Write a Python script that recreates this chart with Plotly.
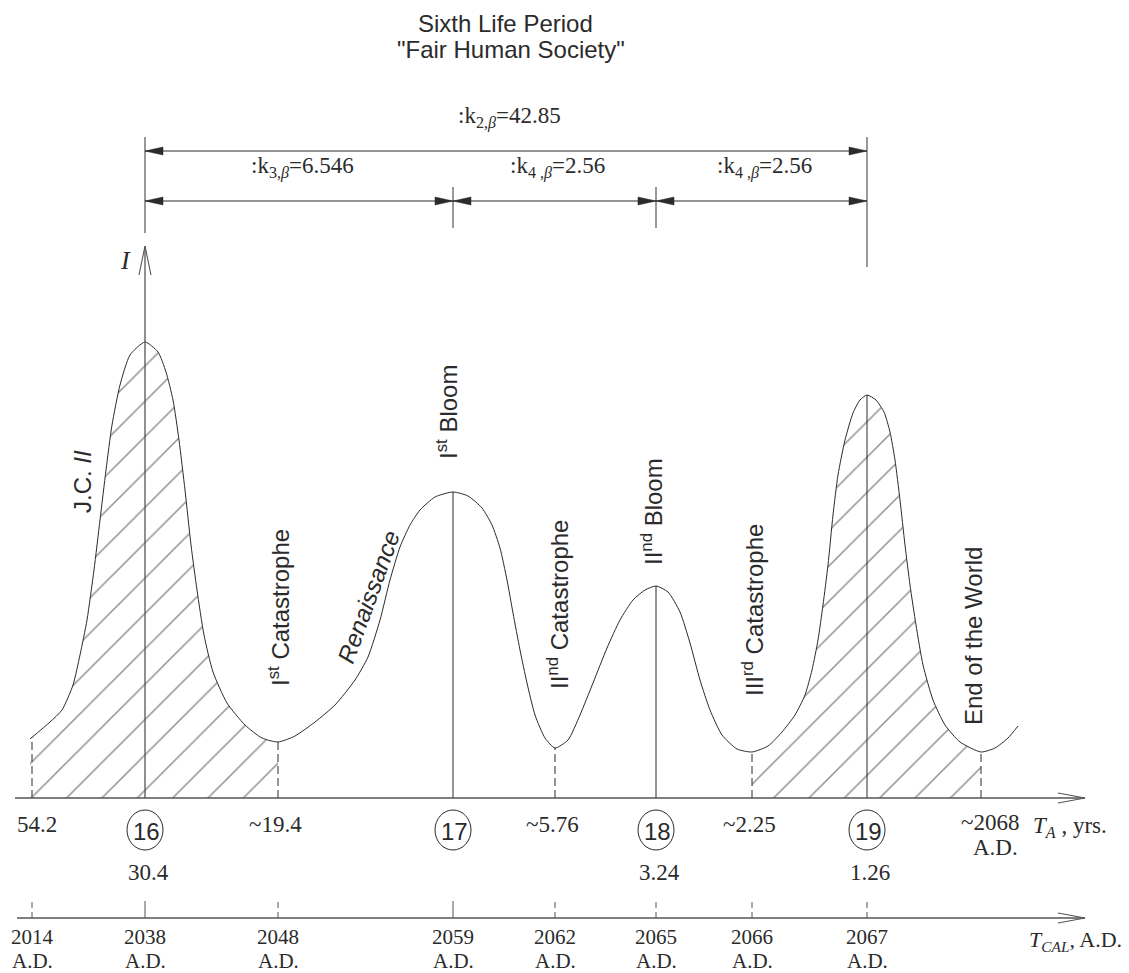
import numpy as np
import plotly.graph_objects as go

# ---------------- data (schematic drawing: position along the time axis, intensity I) ----------------
curve_x = [30, 50, 62, 73, 80, 87, 94, 100, 106, 112, 120, 130, 145, 158, 166, 173, 179, 185, 191, 197,
           204, 213, 227, 245, 262, 278, 295, 315, 335, 355, 368, 380, 390, 400, 410, 420, 435, 453, 468, 482,
           492, 500, 507, 513, 520, 527, 535, 545, 555, 568, 580, 593, 607, 620, 633, 645, 656, 668, 680, 690,
           700, 710, 722, 737, 752, 768, 782, 795, 805, 812, 818, 823, 828, 833, 838, 845, 853, 860, 867, 876,
           884, 890, 895, 900, 905, 910, 916, 923, 933, 945, 960, 981, 995, 1008, 1018]
curve_I = [59, 76, 88, 113, 143, 178, 228, 278, 328, 373, 413, 443, 456, 446, 426, 398, 358, 308, 253, 208,
           163, 126, 95, 73, 60, 56, 62, 76, 93, 118, 141, 178, 218, 251, 273, 288, 301, 306, 302, 290,
           273, 250, 218, 185, 148, 115, 83, 60, 50, 58, 83, 115, 150, 178, 198, 208, 212, 206, 186, 155,
           118, 88, 63, 49, 46, 52, 66, 83, 103, 128, 158, 193, 233, 283, 323, 358, 385, 398, 403, 398,
           386, 366, 338, 298, 253, 213, 173, 133, 98, 73, 56, 46, 50, 60, 72]

event_x = [32, 145, 278, 453, 555, 656, 752, 867, 981]
event_kind = ['min', 'peak', 'min', 'peak', 'min', 'peak', 'min', 'peak', 'min']
period_no = ['', '16', '', '17', '', '18', '', '19', '']
TA_values = ['54.2', '', '~19.4', '', '~5.76', '', '~2.25', '', '~2068<br>A.D.']
TA_under = ['', '30.4', '', '', '', '3.24', '', '1.26', '']
TCAL_years = ['2014', '2038', '2048', '2059', '2062', '2065', '2066', '2067', '']
TCAL_solid = [False, True, False, True, False, False, False, False, False]

event_names = ['J.C. <i>II</i>', 'I<sup>st</sup> Catastrophe', '<i>Renaissance</i>', 'I<sup>st</sup> Bloom',
               'II<sup>nd</sup> Catastrophe', 'II<sup>nd</sup> Bloom', 'III<sup>rd</sup> Catastrophe',
               'End of the World']

dim_labels = [':k<sub>2,<i>β</i></sub>=42.85', ':k<sub>3,<i>β</i></sub>=6.546',
              ':k<sub>4 ,<i>β</i></sub>=2.56', ':k<sub>4 ,<i>β</i></sub>=2.56']
dim_from = [1, 1, 3, 5]   # event index
dim_to = [7, 3, 5, 7]
dim_level = [0, 1, 1, 1]

hatch_spans = [(0, 2), (6, 8)]  # event index ranges

# ---------------- style ----------------
INK = '#2b2b2b'
AXC = '#555555'
SANS = 'Liberation Sans, Arial, sans-serif'
SERIF = 'Liberation Serif, Times New Roman, serif'
BASE = 798          # screen row of the T_A axis
W, H = 1129, 973
OFF = 8             # page body margin

def Y(py):  # style helper: screen row -> I units (1 unit = 1px)
    return BASE - py

fig = go.Figure()

def seg(xs, ys, color=INK, width=1.0, dash=None):
    fig.add_trace(go.Scatter(x=xs, y=ys, mode='lines', hoverinfo='skip', showlegend=False,
                             line=dict(color=color, width=width, dash=dash)))

def tri(xtip, ytip, direction, length=18, half=4):
    xb = xtip - direction * length
    fig.add_trace(go.Scatter(x=[xtip, xb, xb, xtip], y=[ytip, ytip + half, ytip - half, ytip],
                             mode='lines', fill='toself', fillcolor=INK, hoverinfo='skip',
                             showlegend=False, line=dict(color=INK, width=0.5)))

# hatched regions
for a, b in hatch_spans:
    lo, hi = event_x[a] - 2, event_x[b]
    xs = [x for x in curve_x if lo <= x <= hi]
    ys = [curve_I[curve_x.index(x)] for x in xs]
    fig.add_trace(go.Scatter(x=xs, y=ys, mode='lines', line=dict(width=0, shape='spline', smoothing=0.6),
                             fill='tozeroy', fillcolor='rgba(0,0,0,0)',
                             fillpattern=dict(shape='/', size=25, solidity=0.06, fgcolor='#222222',
                                              bgcolor='rgba(0,0,0,0)'),
                             hoverinfo='skip', showlegend=False))

# curve
fig.add_trace(go.Scatter(x=curve_x, y=curve_I, mode='lines', hoverinfo='skip', showlegend=False,
                         line=dict(color=INK, width=1, shape='spline', smoothing=0.6)))

event_I = np.interp(event_x, curve_x, curve_I)

# verticals from curve to T_A axis
for i, x in enumerate(event_x):
    if event_kind[i] == 'min':
        seg([x, x], [0, event_I[i]], color=INK, width=1, dash='8px,4px')
    elif i != 1:
        seg([x, x], [0, event_I[i]], color=INK, width=1)

# T_A axis
seg([15, 1085], [0, 0], color=AXC, width=1.3)
seg([1058, 1085, 1058], [5, 0, -5], color=AXC, width=1.1)
# T_CAL axis
ycal = Y(918)
seg([17, 1085], [ycal, ycal], color=AXC, width=1.3)
seg([1058, 1085, 1058], [ycal + 5, ycal, ycal - 5], color=AXC, width=1.1)
for i, x in enumerate(event_x):
    if TCAL_years[i]:
        seg([x, x], [ycal, ycal + 17], color=AXC, width=1, dash=None if TCAL_solid[i] else '6px,4px')
# I axis
x16 = event_x[1]
seg([x16, x16], [0, Y(246)], color=AXC, width=1.3)
seg([x16 - 6, x16, x16 + 6], [Y(275), Y(246), Y(275)], color=AXC, width=1.1)

# dimension lines
lev_y = [Y(151), Y(201)]
ext = {1: (Y(137), Y(233)), 3: (Y(187), Y(228)), 5: (Y(187), Y(228)), 7: (Y(137), Y(267))}
for k, (y0, y1) in ext.items():
    seg([event_x[k], event_x[k]], [y0, y1], color=AXC, width=1.2)
for j in range(len(dim_labels)):
    x0, x1 = event_x[dim_from[j]], event_x[dim_to[j]]
    yl = lev_y[dim_level[j]]
    seg([x0, x1], [yl, yl], color=INK, width=1.1)
    tri(x0, yl, -1)
    tri(x1, yl, +1)
    fig.add_annotation(x=(x0 + x1) / 2 + 3, y=yl + 34, text=dim_labels[j], showarrow=False,
                       font=dict(family=SERIF, size=23, color=INK), xanchor='center', yanchor='middle')

# circled period numbers & T_A values
for i, x in enumerate(event_x):
    if period_no[i]:
        fig.add_shape(type='circle', x0=x - 18, x1=x + 18, y0=Y(850), y1=Y(810),
                      line=dict(color=INK, width=1))
        fig.add_annotation(x=x + 1, y=Y(831), text=period_no[i], showarrow=False,
                           font=dict(family=SANS, size=24, color=INK), xanchor='center', yanchor='middle')
    if TA_under[i]:
        fig.add_annotation(x=x + 3, y=Y(872), text=TA_under[i], showarrow=False,
                           font=dict(family=SERIF, size=23, color=INK), xanchor='center', yanchor='middle')
    if TA_values[i] and '<br>' not in TA_values[i]:
        fig.add_annotation(x=x + (5 if i == 0 else -3), y=Y(824), text=TA_values[i], showarrow=False,
                           font=dict(family=SERIF, size=23, color=INK), xanchor='center', yanchor='middle')
    if TCAL_years[i]:
        fig.add_annotation(x=x, y=Y(937), text=TCAL_years[i], showarrow=False,
                           font=dict(family=SERIF, size=21, color=INK), xanchor='center', yanchor='middle')
        fig.add_annotation(x=x, y=Y(961), text='A.D.', showarrow=False,
                           font=dict(family=SERIF, size=21, color=INK), xanchor='center', yanchor='middle')

top, bot = TA_values[-1].split('<br>')
fig.add_annotation(x=event_x[-1] + 9, y=Y(822), text=top, showarrow=False,
                   font=dict(family=SERIF, size=23, color=INK), xanchor='center', yanchor='middle')
fig.add_annotation(x=event_x[-1] + 14, y=Y(847), text=bot, showarrow=False,
                   font=dict(family=SERIF, size=23, color=INK), xanchor='center', yanchor='middle')

fig.add_annotation(x=1031, y=Y(827), text='<i>T</i><sub><i>A</i></sub> , yrs.', showarrow=False,
                   font=dict(family=SERIF, size=23, color=INK), xanchor='left', yanchor='middle')
fig.add_annotation(x=1124, y=Y(941), text='<i>T</i><sub><i>CAL</i></sub>, A.D.', showarrow=False,
                   font=dict(family=SERIF, size=22, color=INK), xanchor='right', yanchor='middle')
fig.add_annotation(x=125, y=Y(260), text='<i>I</i>', showarrow=False,
                   font=dict(family=SERIF, size=26, color=INK), xanchor='center', yanchor='middle')

# event name labels (rotated)
name_pos = [(82, 482, -90), (279, 608, -90), (368, 597, -70), (447, 412, -90),
            (558, 605, -90), (652, 512, -90), (753, 610, -90), (973, 636, -90)]
for t, (px, py, ang) in zip(event_names, name_pos):
    fig.add_annotation(x=px, y=Y(py), text=t, showarrow=False, textangle=ang,
                       font=dict(family=SANS, size=24, color=INK), xanchor='center', yanchor='middle')

# title
fig.add_annotation(x=505, y=Y(23), text='Sixth Life Period', showarrow=False,
                   font=dict(family=SANS, size=24, color=INK), xanchor='center', yanchor='middle')
fig.add_annotation(x=511, y=Y(49), text='"Fair Human Society"', showarrow=False,
                   font=dict(family=SANS, size=24, color=INK), xanchor='center', yanchor='middle')

# the page body has an 8px margin: size the figure to the visible window and shift the ranges
fig.update_layout(width=W - OFF, height=H - OFF, autosize=False, margin=dict(l=0, r=0, t=0, b=0, pad=0),
                  paper_bgcolor='white', plot_bgcolor='white', showlegend=False,
                  xaxis=dict(range=[OFF, W], visible=False, fixedrange=True),
                  yaxis=dict(range=[BASE - H, BASE - OFF], visible=False, fixedrange=True))

fig.write_html('out.html', config={'displayModeBar': False})
